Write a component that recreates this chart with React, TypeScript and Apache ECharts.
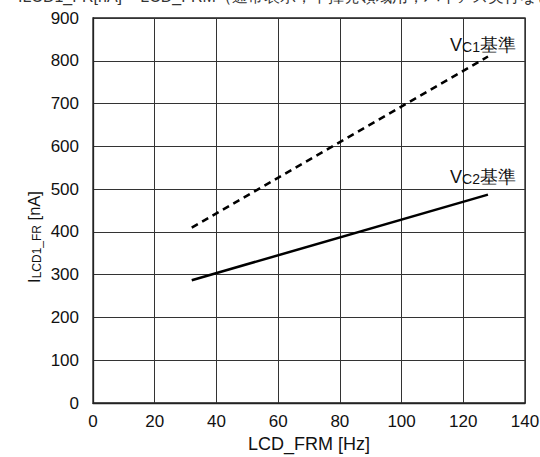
import React, { useEffect, useRef } from "react";
import * as echarts from "echarts";

const freqHz = [32, 128];
const vc1Current = [410, 810];
const vc2Current = [287, 487];
const seriesNames = ["VC1基準", "VC2基準"];
const xTicks = { min: 0, max: 140, interval: 20 };
const yTicks = { min: 0, max: 900, interval: 100 };

const FONT = "'Liberation Sans', Arial, Helvetica, sans-serif";

export default function App() {
  const ref = useRef<HTMLDivElement>(null);
  useEffect(() => {
    if (!ref.current) return;
    const chart = echarts.init(ref.current, undefined, { renderer: "svg" });
    const mkLabel = (sub: string, dy: number) => ({
      show: true,
      position: "top",
      distance: 2,
      offset: [-5, dy],
      formatter: (p: any) => (p.dataIndex === 1 ? `V{s|${sub}}基準` : ""),
      color: "#111",
      fontSize: 18,
      fontFamily: FONT,
      rich: {
        s: { fontSize: 14, fontFamily: FONT, color: "#111", verticalAlign: "bottom" },
      },
    });
    chart.setOption({
      animation: false,
      backgroundColor: "#fff",
      textStyle: { fontFamily: FONT },
      graphic: [
        {
          type: "text",
          left: 18,
          top: -12,
          style: {
            text: "ILCD1_FR[nA] − LCD_FRM（通常表示，不揮発領域用，バイアス実行なし）",
            fontSize: 16,
            fill: "#333",
            fontFamily: FONT,
          },
        },
        {
          type: "text",
          x: 34,
          y: 237,
          rotation: Math.PI / 2,
          style: {
            text: "I{s|LCD1_FR} [nA]",
            align: "center",
            verticalAlign: "middle",
            fontSize: 16.5,
            fill: "#111",
            fontFamily: FONT,
            rich: {
              s: { fontSize: 12, fill: "#111", fontFamily: FONT, verticalAlign: "bottom" },
            },
          },
        },
      ],
      grid: {
        left: 93,
        right: 15,
        top: 18,
        bottom: 54,
        containLabel: false,
        outerBoundsMode: "none",
        show: true,
        borderColor: "#222",
        borderWidth: 1.3,
      },
      xAxis: {
        type: "value",
        min: xTicks.min,
        max: xTicks.max,
        interval: xTicks.interval,
        name: "LCD_FRM [Hz]",
        nameLocation: "middle",
        nameGap: 29,
        nameTextStyle: { fontSize: 18, color: "#111", fontFamily: FONT },
        axisLine: { show: true, lineStyle: { color: "#222", width: 1.3 } },
        axisTick: { show: false },
        axisLabel: { fontSize: 17, color: "#111", margin: 10, fontFamily: FONT },
        splitLine: { show: true, lineStyle: { color: "#333", width: 1 } },
      },
      yAxis: {
        type: "value",
        min: yTicks.min,
        max: yTicks.max,
        interval: yTicks.interval,
        axisLine: { show: true, lineStyle: { color: "#222", width: 1.3 } },
        axisTick: { show: false },
        axisLabel: { fontSize: 17, color: "#111", margin: 14, fontFamily: FONT },
        splitLine: { show: true, lineStyle: { color: "#333", width: 1 } },
      },
      series: [
        {
          name: seriesNames[0],
          type: "line",
          data: freqHz.map((x, i) => [x, vc1Current[i]]),
          showSymbol: true,
          symbol: "circle",
          symbolSize: 1,
          itemStyle: { color: "transparent" },
          lineStyle: { color: "#000", width: 2.5, type: [7, 5] },
          label: mkLabel("C1", 0),
        },
        {
          name: seriesNames[1],
          type: "line",
          data: freqHz.map((x, i) => [x, vc2Current[i]]),
          showSymbol: true,
          symbol: "circle",
          symbolSize: 1,
          itemStyle: { color: "transparent" },
          lineStyle: { color: "#000", width: 2.5 },
          label: mkLabel("C2", -6),
        },
      ],
    });
    return () => chart.dispose();
  }, []);
  return (
    <div
      ref={ref}
      style={{ position: "absolute", left: 0, top: 0, width: 540, height: 457 }}
    />
  );
}
